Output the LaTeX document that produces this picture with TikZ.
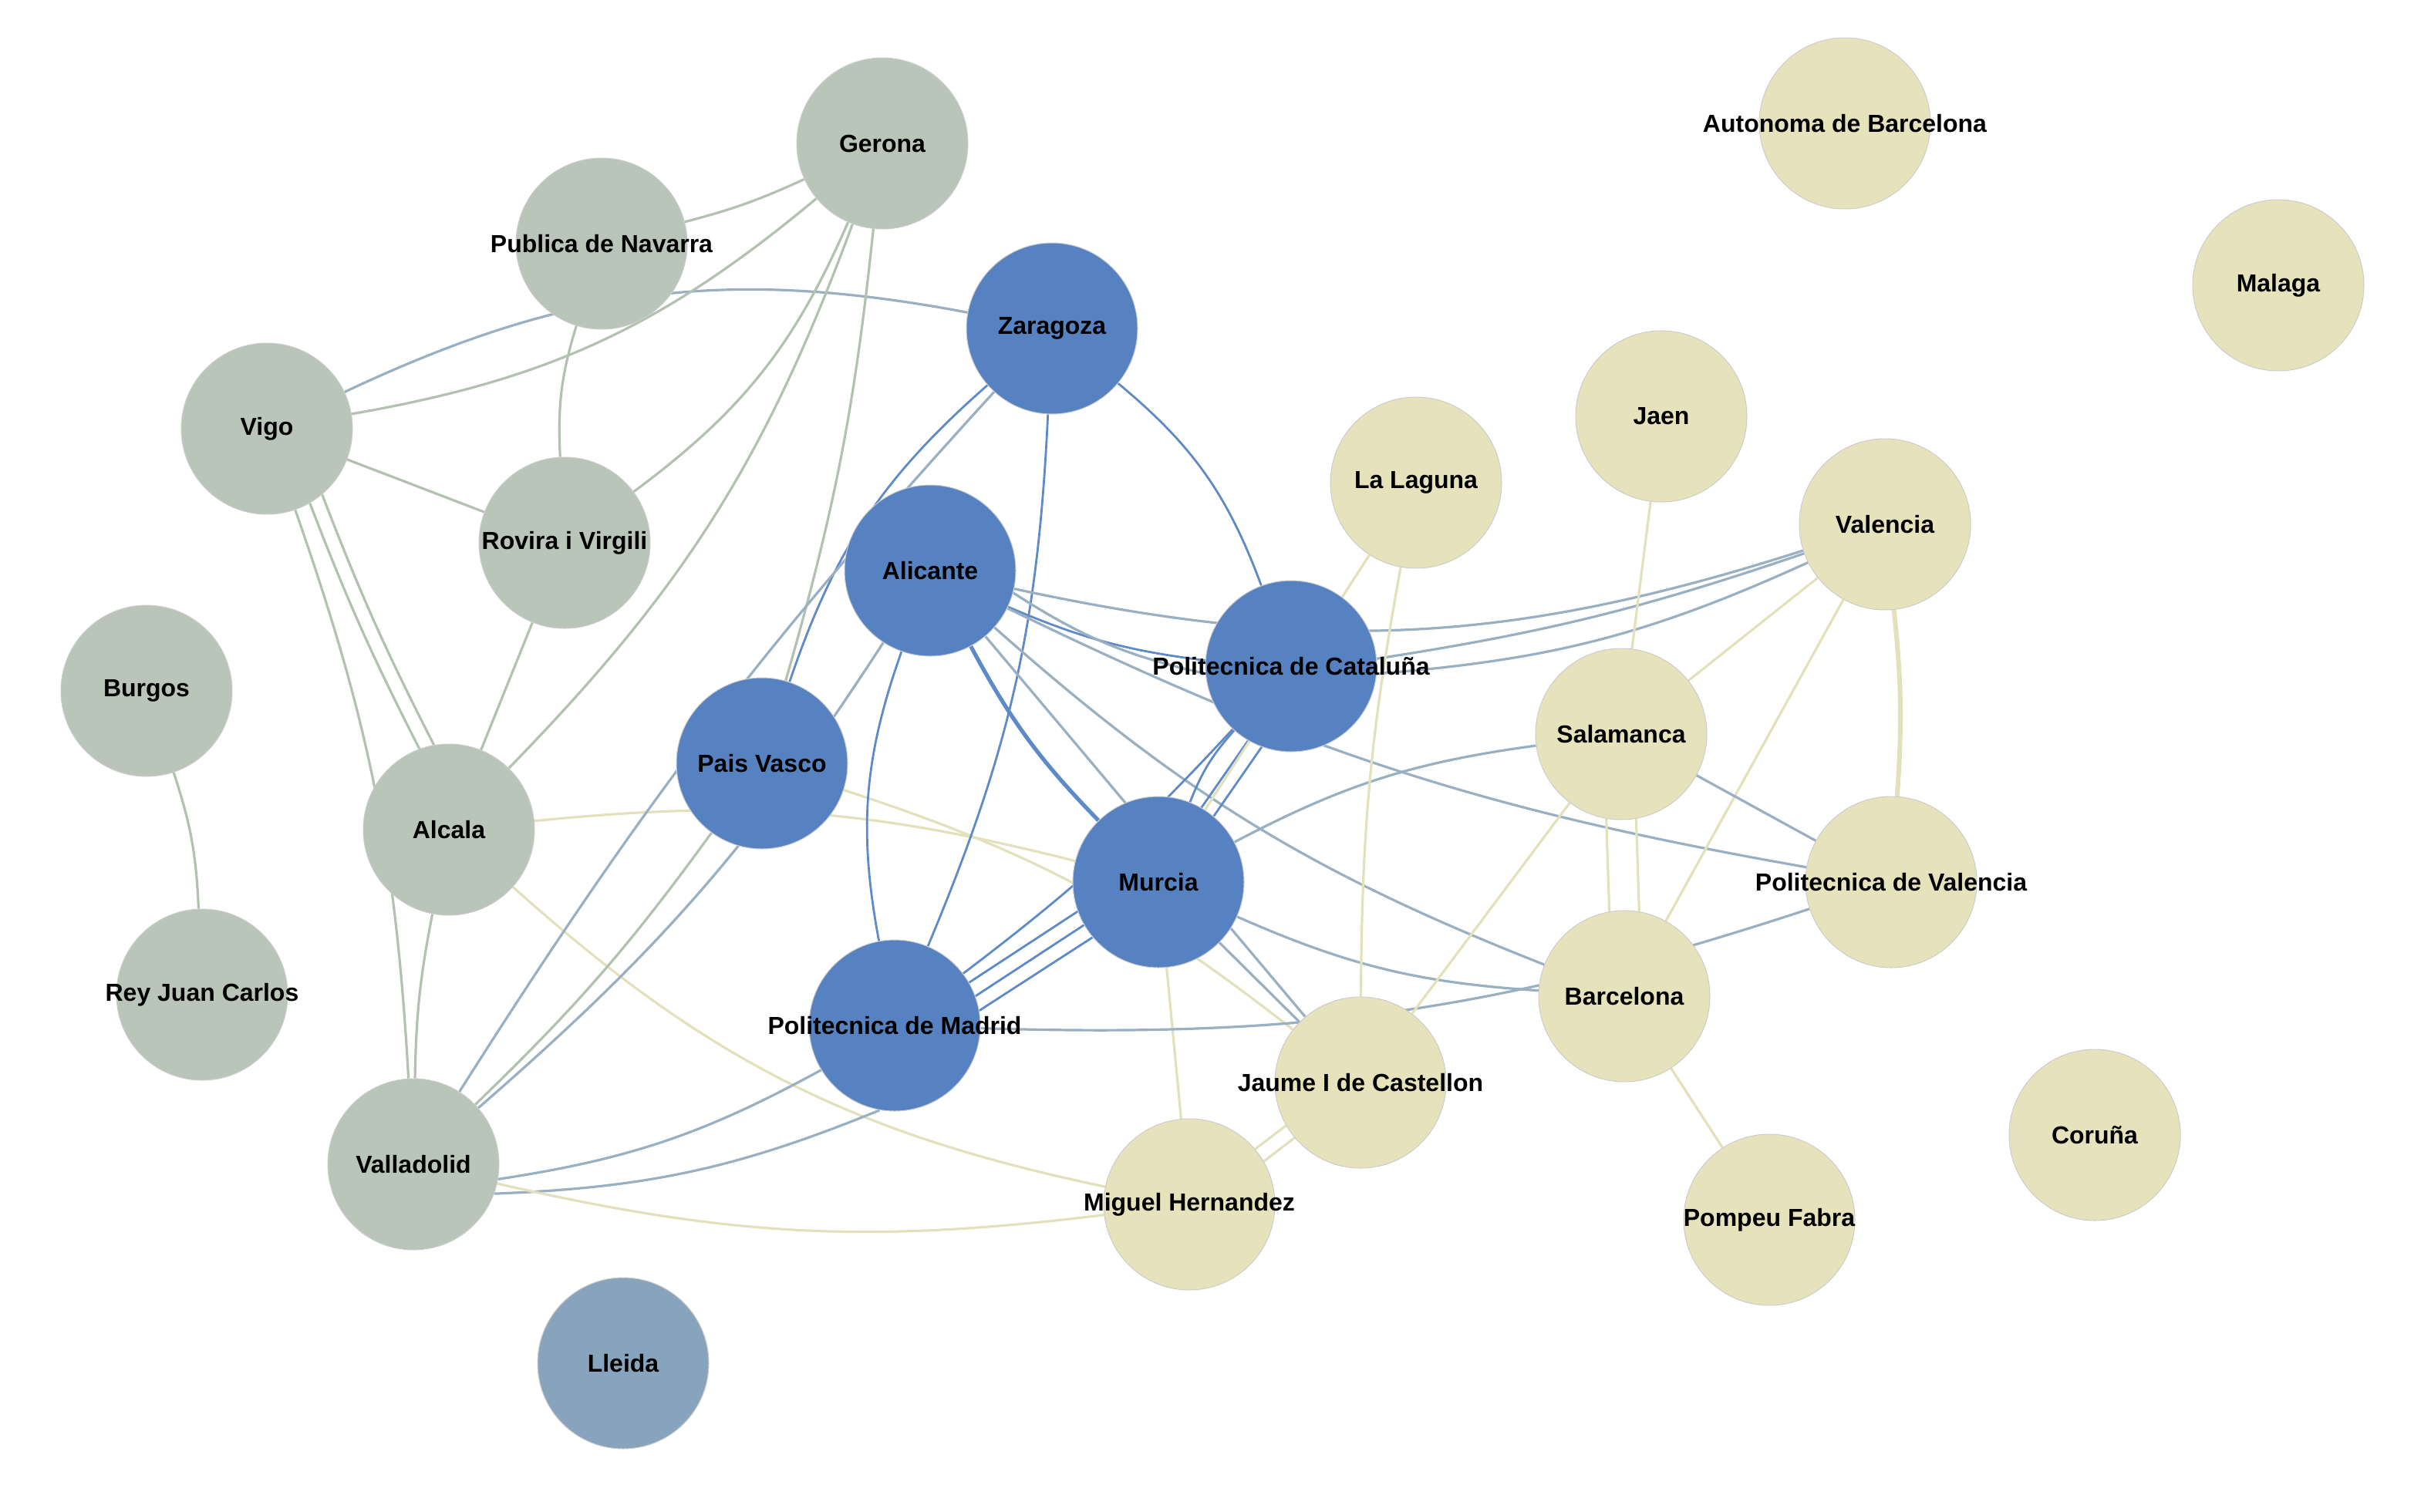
\documentclass[tikz,border=0pt]{standalone}
\usepackage{fontspec}
\setmainfont{Liberation Sans}
\usetikzlibrary{backgrounds}
\definecolor{gn}{HTML}{B9C5B9}
\definecolor{bl}{HTML}{5682C2}
\definecolor{yl}{HTML}{E6E3BC}
\definecolor{ll}{HTML}{88A4BC}
\definecolor{ge}{HTML}{B3C1B0}
\definecolor{be}{HTML}{5F8AC8}
\definecolor{ye}{HTML}{E2E1BC}
\definecolor{me}{HTML}{98B0C2}
\begin{document}
\begin{tikzpicture}[x=1pt,y=-1pt,
 uni/.style={circle,minimum size=111pt,inner sep=0pt,draw=white!80!black,line width=0.5pt,label={[font=\bfseries\fontsize{16}{18}\selectfont]center:#1}},
 NG/.style={uni=#1,fill=gn},NB/.style={uni=#1,fill=bl},NY/.style={uni=#1,fill=yl},
 eg/.style={ge,line width=1.6pt},eb/.style={be,line width=1.4pt},ey/.style={ye,line width=1.6pt},em/.style={me,line width=1.6pt}]
\useasboundingbox (0,0) rectangle (1576,980);
\node[NG=Gerona] (ger) at (572,93) {};
\node[NG=Publica de Navarra] (pna) at (390,158) {};
\node[NG=Vigo] (vig) at (173,278) {};
\node[NG=Rovira i Virgili] (rov) at (366,352) {};
\node[NG=Burgos] (bur) at (95,448) {};
\node[NG=Alcala] (alc) at (291,538) {};
\node[NG=Rey Juan Carlos] (rjc) at (131,645) {};
\node[NG=Valladolid] (val) at (268,755) {};
\node[uni=Lleida,fill=ll] (lle) at (404,884) {};
\node[NB=Zaragoza] (zar) at (682,213) {};
\node[NB=Alicante] (ali) at (603,370) {};
\node[NB=Pais Vasco] (pva) at (494,495) {};
\node[NB=Politecnica de Cataluña] (pca) at (837,432) {};
\node[NB=Murcia] (mur) at (751,572) {};
\node[NB=Politecnica de Madrid] (pma) at (580,665) {};
\node[NY=Autonoma de Barcelona] (aba) at (1196,80) {};
\node[NY=Malaga] (mal) at (1477,185) {};
\node[NY=Jaen] (jae) at (1077,270) {};
\node[NY=La Laguna] (lag) at (918,313) {};
\node[NY=Valencia] (vlc) at (1222,340) {};
\node[NY=Salamanca] (sal) at (1051,476) {};
\node[NY=Politecnica de Valencia] (pvl) at (1226,572) {};
\node[NY=Barcelona] (bar) at (1053,646) {};
\node[NY=Jaume I de Castellon] (jau) at (882,702) {};
\node[NY=Miguel Hernandez] (mig) at (771,781) {};
\node[NY=Coruña] (cor) at (1358,736) {};
\node[NY=Pompeu Fabra] (pom) at (1147,791) {};
\begin{scope}[on background layer]
\draw[em] (vig) to[bend left=18] (zar);
\draw[eg] (vig) to[bend right=15] (ger);
\draw[eg] (pna) to[bend right=5] (ger);
\draw[eg] (pna) to[bend right=10] (rov);
\draw[eg] (vig) -- (rov);
\draw[eg] (vig.-60) to[bend right=3] (alc.110);
\draw[eg] (vig.-50) to[bend right=3] (alc.100);
\draw[eg] (vig) to[bend left=8] (val);
\draw[eg] (ger) to[bend left=15] (rov);
\draw[eg] (ger) to[bend left=12] (alc);
\draw[eg] (ger) to[bend left=5] (pva);
\draw[eg] (rov) -- (alc);
\draw[eg] (bur) to[bend left=8] (rjc);
\draw[eg] (alc) to[bend right=5] (val);
\draw[ey] (alc) to[bend left=10] (mur);
\draw[ey] (alc) to[bend right=15] (mig);
\draw[eg] (val) to[bend right=5] (pva);
\draw[em] (val) to[bend right=8] (ali);
\draw[em] (val.-10) to[bend right=10] (pma);
\draw[em] (val.-20) to[bend right=10] (pma.-100);
\draw[ey] (val) to[bend right=10] (mig);
\draw[ey] (pva) to[bend left=10] (jau);
\draw[eb] (zar) to[bend right=15] (pva);
\draw[eb] (zar) to[bend left=10] (pma);
\draw[em] (zar) to[bend right=5] (val);
\draw[eb] (zar) to[bend left=15] (pca);
\draw[eb] (ali) to[bend right=15] (pma);
\draw[eb,line width=2.6pt] (ali) to[bend right=8] (mur);
\draw[eb] (ali.-25) to[bend right=8] (pca);
\draw[em] (ali.-15) to[bend right=10] (pca.185);
\draw[em] (ali) to[bend right=15] (vlc);
\draw[em] (ali) to[bend right=8] (pvl);
\draw[em] (ali) -- (jau);
\draw[em] (ali) to[bend right=10] (bar);
\draw[eb] (pca) to[bend right=10] (mur);
\draw[eb] (pca.-120) -- (mur.60);
\draw[eb] (pca.-110) -- (mur.50);
\draw[em] (pca.-5) to[bend right=10] (vlc);
\draw[em] (pca.5) to[bend right=5] (vlc);
\draw[eb] (pca) to[bend left=5] (pma);
\draw[eb] (mur.-150) -- (pma.20);
\draw[eb] (mur.-160) -- (pma.30);
\draw[eb] (mur.-140) -- (pma.10);
\draw[em] (mur) to[bend left=10] (sal);
\draw[em] (mur) to[bend right=10] (bar);
\draw[em] (mur) -- (jau);
\draw[ey] (mur) -- (mig);
\draw[em] (pma) to[bend right=10] (pvl);
\draw[ey,line width=3pt] (vlc) to[bend left=5] (pvl);
\draw[ey] (vlc) -- (sal);
\draw[ey] (vlc) -- (bar);
\draw[ey] (jae) -- (sal);
\draw[ey] (sal.-100) -- (bar.100);
\draw[ey] (sal.-80) -- (bar.80);
\draw[em] (sal) -- (pvl);
\draw[ey] (sal) -- (jau);
\draw[ey] (lag) to[bend right=5] (jau);
\draw[ey] (lag) -- (mur);
\draw[ey] (bar) -- (pom);
\draw[ey] (jau.-150) -- (mig.40);
\draw[ey] (jau.-140) -- (mig.30);
\end{scope}
\end{tikzpicture}
\end{document}
